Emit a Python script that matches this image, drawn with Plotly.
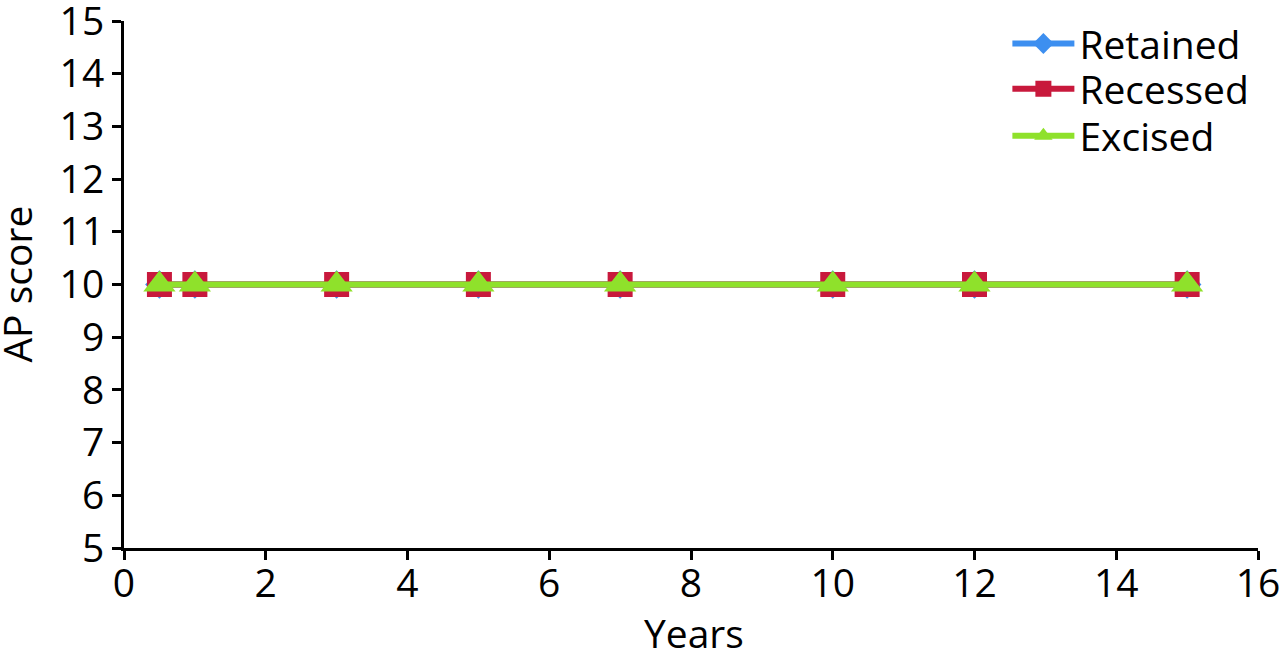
import plotly.graph_objects as go

years = [0.5, 1, 3, 5, 7, 10, 12, 15]
retained = [10, 10, 10, 10, 10, 10, 10, 10]
recessed = [10, 10, 10, 10, 10, 10, 10, 10]
excised = [10, 10, 10, 10, 10, 10, 10, 10]

series = [
    ("Retained", retained, "#3d8ff0", "diamond", 22, "legend", 0.957),
    ("Recessed", recessed, "#c8193c", "square", 25, "legend2", 0.871),
    ("Excised", excised, "#8fe12b", "triangle-up", 28, "legend3", 0.782),
]

fig = go.Figure()
legends = {}
for name, vals, col, sym, sz, lg, ly in series:
    fig.add_trace(go.Scatter(
        x=years, y=vals, name=name, mode="lines+markers",
        line=dict(color=col, width=6),
        marker=dict(symbol=sym, size=sz, color=col),
        legend=lg,
    ))
    legends[lg] = dict(x=0.779, y=ly, xanchor="left", yanchor="middle",
                       bgcolor="rgba(0,0,0,0)", font=dict(size=39),
                       itemwidth=62)

font = "Open Sans, Lato, sans-serif"
fig.update_layout(
    width=1280, height=649,
    margin=dict(l=124, r=22, t=16, b=101),
    paper_bgcolor="white", plot_bgcolor="white",
    font=dict(family=font, size=39, color="black"),
    showlegend=True,
    xaxis=dict(range=[0, 16], tickvals=[0, 2, 4, 6, 8, 10, 12, 14, 16],
               showgrid=False, zeroline=False, showline=True, linecolor="black",
               linewidth=3, ticks="outside", ticklen=9, tickwidth=3, tickcolor="black",
               automargin=False, ticklabeloverflow="allow", ticklabelstandoff=-10,
               tickfont=dict(size=39)),
    yaxis=dict(range=[5, 15], tickvals=list(range(5, 16)),
               showgrid=False, zeroline=False, showline=True, linecolor="black",
               linewidth=3, ticks="outside", ticklen=9, tickwidth=3, tickcolor="black",
               automargin=False, ticklabeloverflow="allow",
               tickfont=dict(size=39)),
    annotations=[
        dict(text="Years", xref="paper", yref="paper", x=0.503, y=-0.16,
             xanchor="center", yanchor="middle", showarrow=False,
             font=dict(size=39)),
        dict(text="AP score", xref="paper", yref="paper", x=-0.0952, y=0.5,
             xanchor="center", yanchor="middle", showarrow=False, textangle=-90,
             font=dict(size=39)),
    ],
)
fig.update_layout(**legends)
fig.write_html("out.html")
